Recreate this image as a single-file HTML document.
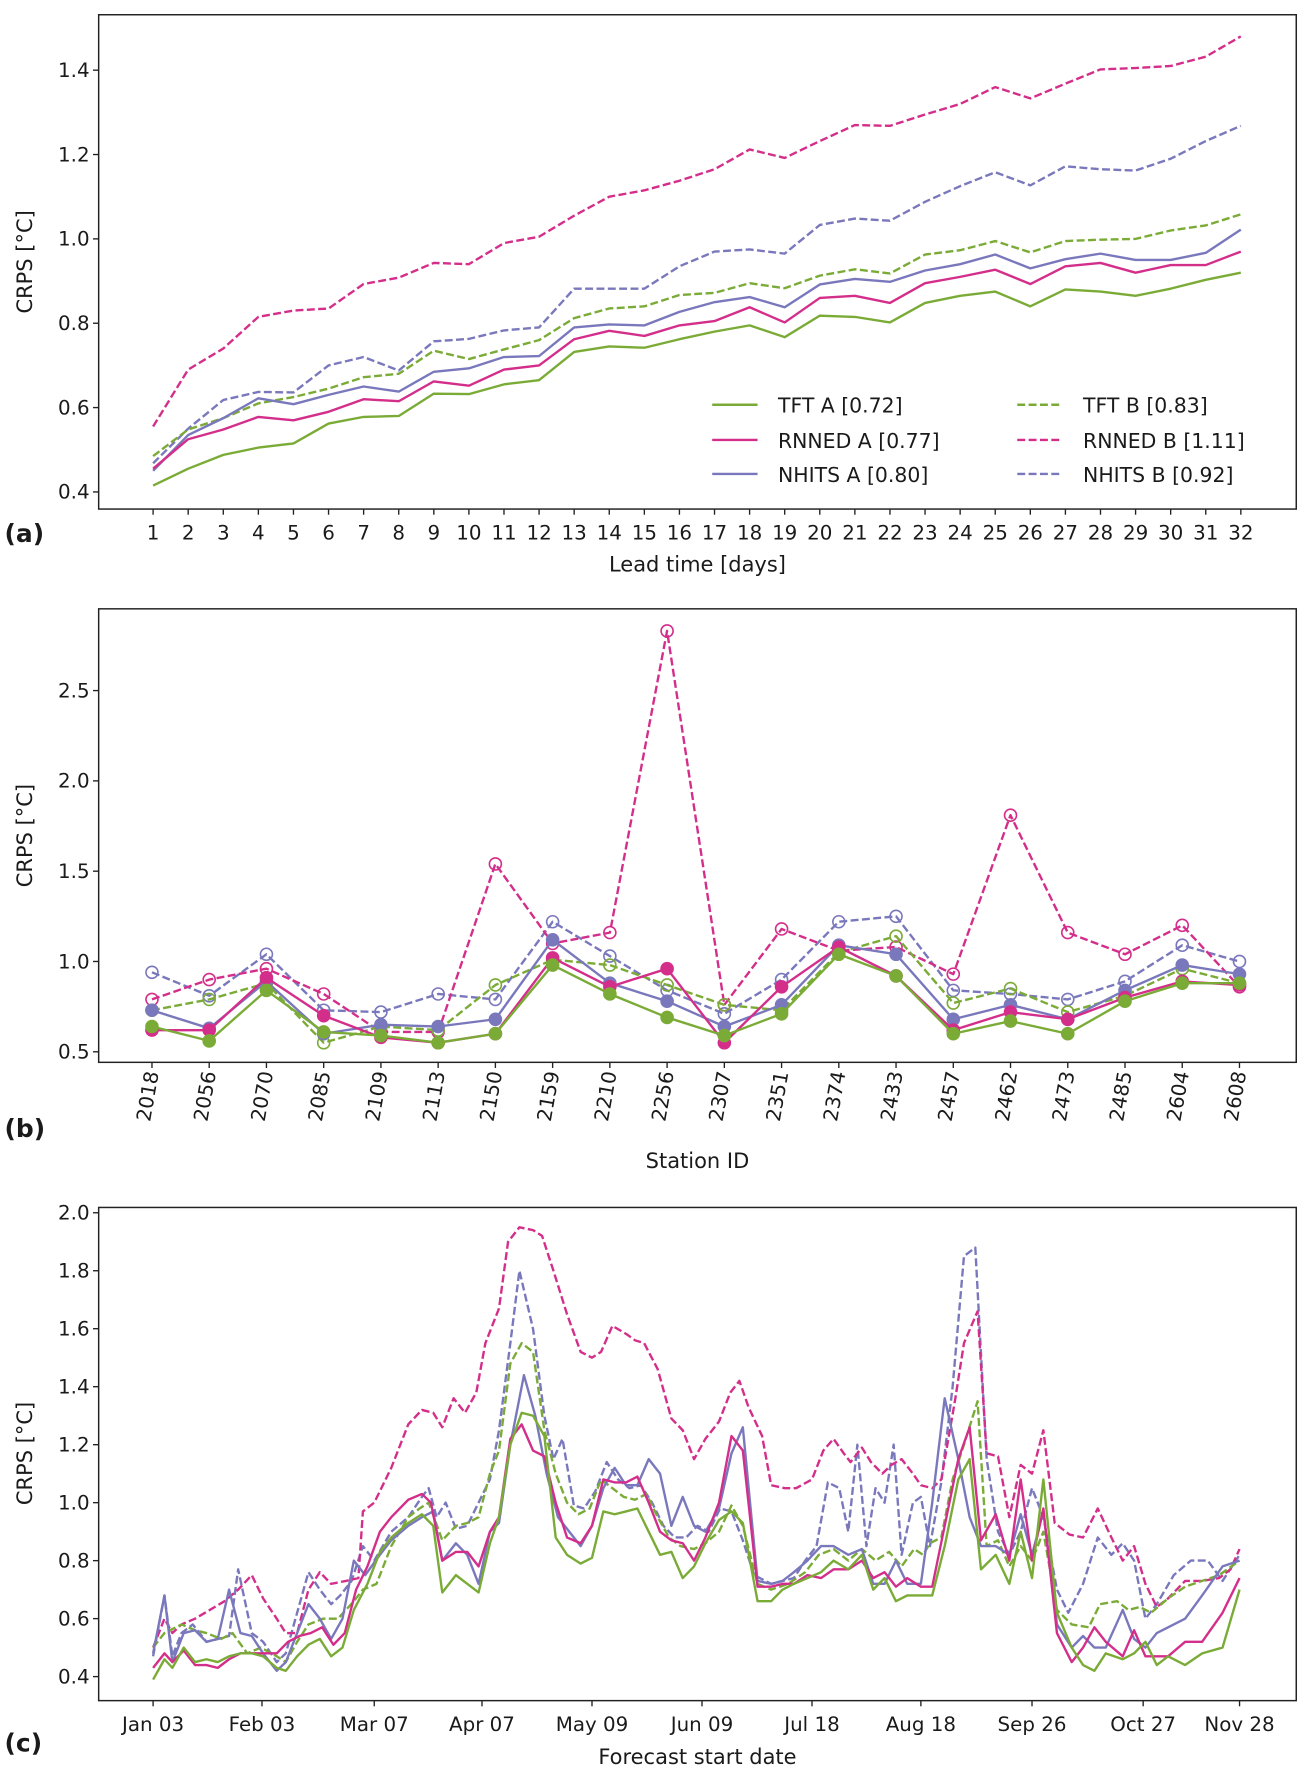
<!DOCTYPE html>
<html><head><meta charset="utf-8"><style>
html,body{margin:0;padding:0;background:#fff;}
svg{display:block;}
text{font-family:"DejaVu Sans","Liberation Sans",sans-serif;fill:#1a1a1a;}
</style></head><body>
<svg id="s" width="1311" height="1780" viewBox="0 0 1156 1570" preserveAspectRatio="none" xmlns="http://www.w3.org/2000/svg"></svg>
<script>
var S=document.getElementById('s'),NS='http://www.w3.org/2000/svg';
function el(t,a,txt){var e=document.createElementNS(NS,t);for(var k in a)e.setAttribute(k,a[k]);if(txt!=null)e.textContent=txt;S.appendChild(e);return e;}
var G='#7bab37',P='#d42e8b',U='#7a78bc';
var L=87,R=1143;
function line(pts,c,dash){el('polyline',{points:pts.map(function(p){return p[0].toFixed(1)+','+p[1].toFixed(1)}).join(' '),fill:'none',stroke:c,'stroke-width':2.1,'stroke-linejoin':'round','stroke-dasharray':dash?'7,3':'none'});}
function frame(t,b){el('rect',{x:L,y:t,width:R-L,height:b-t,fill:'none',stroke:'#222','stroke-width':1.3});}
function ytick(y,lab){el('line',{x1:L-5,y1:y,x2:L,y2:y,stroke:'#222','stroke-width':1.2});el('text',{x:L-8,y:y+6,'text-anchor':'end','font-size':17.5},lab);}
function xtick(x,b){el('line',{x1:x,y1:b,x2:x,y2:b+5,stroke:'#222','stroke-width':1.2});}
function ylab(cy){el('text',{x:0,y:0,transform:'translate(28,'+cy+') rotate(-90)','text-anchor':'middle','font-size':18.5},'CRPS [°C]');}
// ---------- Panel a ----------
var at=13,ab=449;
function ya(v){return 433.9-(v-0.4)*372;}
function xa(i){return 135+i*30.94;}
var A={
tA:[.415,.455,.488,.505,.515,.562,.578,.58,.633,.632,.655,.665,.732,.745,.742,.762,.78,.795,.767,.818,.815,.802,.848,.865,.875,.84,.88,.875,.865,.882,.903,.92],
rA:[.455,.525,.548,.578,.57,.59,.62,.615,.662,.652,.69,.7,.762,.782,.77,.795,.805,.838,.802,.86,.865,.848,.895,.91,.927,.893,.935,.943,.92,.938,.938,.97],
nA:[.45,.535,.575,.622,.608,.63,.65,.638,.685,.693,.72,.722,.79,.797,.795,.827,.85,.862,.838,.892,.905,.898,.925,.94,.963,.93,.952,.965,.95,.95,.967,1.022],
tB:[.485,.548,.575,.61,.625,.645,.672,.68,.735,.715,.738,.76,.812,.835,.84,.867,.872,.895,.883,.913,.928,.918,.963,.973,.995,.968,.995,.998,1.0,1.02,1.032,1.058],
rB:[.555,.69,.74,.815,.83,.835,.893,.908,.943,.94,.99,1.005,1.055,1.1,1.115,1.138,1.165,1.212,1.192,1.232,1.27,1.268,1.295,1.32,1.36,1.333,1.368,1.402,1.405,1.41,1.432,1.48],
nB:[.468,.55,.618,.637,.636,.7,.72,.688,.757,.763,.783,.79,.882,.882,.882,.935,.97,.975,.965,1.033,1.048,1.043,1.088,1.125,1.158,1.127,1.172,1.165,1.162,1.19,1.232,1.268]};
function pa(arr){return arr.map(function(v,i){return [xa(i),ya(v)]});}
line(pa(A.nB),U,1);line(pa(A.rB),P,1);line(pa(A.tB),G,1);
line(pa(A.nA),U,0);line(pa(A.rA),P,0);line(pa(A.tA),G,0);
frame(at,ab);
[0.4,0.6,0.8,1.0,1.2,1.4].forEach(function(v){ytick(ya(v),v.toFixed(1));});
for(var i=0;i<32;i++){xtick(xa(i),ab);el('text',{x:xa(i),y:476,'text-anchor':'middle','font-size':17.5},String(i+1));}
el('text',{x:615,y:504,'text-anchor':'middle','font-size':18.5},'Lead time [days]');
ylab(231);
el('text',{x:4,y:478,'font-size':22,'font-weight':'bold','font-family':'Liberation Sans'},'(a)');
var leg=[[628,357,G,0,'TFT A [0.72]'],[628,388,P,0,'RNNED A [0.77]'],[628,418,U,0,'NHITS A [0.80]'],[897,357,G,1,'TFT B [0.83]'],[897,388,P,1,'RNNED B [1.11]'],[897,418,U,1,'NHITS B [0.92]']];
leg.forEach(function(l){line([[l[0],l[1]],[l[0]+40,l[1]]],l[2],l[3]);el('text',{x:l[0]+58,y:l[1]+7,'font-size':18},l[4]);});
// ---------- Panel b ----------
var bt=537,bb=937;
function yb(v){return 927.7-(v-0.5)*159.3;}
function xb(i){return 134+i*50.47;}
var st=['2018','2056','2070','2085','2109','2113','2150','2159','2210','2256','2307','2351','2374','2433','2457','2462','2473','2485','2604','2608'];
var B={
tA:[.64,.56,.84,.61,.59,.55,.60,.98,.82,.69,.59,.71,1.04,.92,.60,.67,.60,.78,.88,.88],
rA:[.62,.62,.91,.70,.58,.55,.60,1.02,.86,.96,.55,.86,1.08,.92,.62,.72,.68,.80,.89,.87],
nA:[.73,.63,.89,.60,.65,.64,.68,1.12,.88,.78,.64,.76,1.09,1.04,.68,.76,.68,.84,.98,.93],
tB:[.73,.79,.88,.55,.64,.62,.87,1.01,.98,.87,.76,.73,1.05,1.14,.77,.85,.72,.81,.96,.88],
rB:[.79,.90,.96,.82,.61,.61,1.54,1.10,1.16,2.83,.76,1.18,1.06,1.08,.93,1.81,1.16,1.04,1.20,.86],
nB:[.94,.81,1.04,.73,.72,.82,.79,1.22,1.03,.84,.71,.90,1.22,1.25,.84,.82,.79,.89,1.09,1.0]};
function pb(arr){return arr.map(function(v,i){return [xb(i),yb(v)]});}
function mk(arr,c,filled){arr.forEach(function(v,i){el('circle',{cx:xb(i),cy:yb(v),r:5.3,fill:filled?c:'none',stroke:c,'stroke-width':1.4});});}
[['nB',U],['rB',P],['tB',G]].forEach(function(s){line(pb(B[s[0]]),s[1],1);mk(B[s[0]],s[1],0);});
[['nA',U],['rA',P],['tA',G]].forEach(function(s){line(pb(B[s[0]]),s[1],0);mk(B[s[0]],s[1],1);});
frame(bt,bb);
[0.5,1.0,1.5,2.0,2.5].forEach(function(v){ytick(yb(v),v.toFixed(1));});
st.forEach(function(s,i){xtick(xb(i),bb);el('text',{x:0,y:0,transform:'translate('+(xb(i)+6)+',946) rotate(-80)','text-anchor':'end','font-size':17.5},s);});
el('text',{x:615,y:1030,'text-anchor':'middle','font-size':18.5},'Station ID');
ylab(737);
el('text',{x:4,y:1003,'font-size':22,'font-weight':'bold','font-family':'Liberation Sans'},'(b)');
// ---------- Panel c ----------
var ct=1065,cb=1500;
function yc(v){return 1478.8-(v-0.4)*255.7;}
function pc(s){var a=s.split(','),o=[];a.forEach(function(q){var t=q.trim().split(':');o.push([+t[0],yc(+t[1])]);});return o;}
var C={
rB:"135:.50,145:.60,152:.55,160:.58,172:.60,185:.63,198:.66,210:.70,222:.75,232:.67,244:.60,252:.55,262:.55,272:.70,282:.76,292:.72,305:.73,316:.74,320:.97,330:1.0,345:1.12,360:1.27,372:1.32,382:1.31,390:1.26,400:1.36,410:1.31,420:1.38,428:1.55,440:1.67,448:1.90,458:1.95,470:1.94,478:1.92,488:1.80,500:1.65,512:1.52,522:1.50,530:1.52,540:1.61,553:1.58,560:1.56,568:1.55,580:1.46,592:1.29,602:1.25,612:1.15,622:1.22,634:1.28,644:1.38,652:1.42,660:1.33,672:1.23,680:1.06,692:1.05,702:1.05,716:1.08,726:1.18,735:1.22,744:1.17,750:1.14,760:1.19,768:1.14,778:1.10,786:1.13,795:1.15,805:1.10,812:1.06,822:1.05,830:1.08,842:1.35,850:1.55,862:1.66,870:1.17,880:1.16,890:0.95,900:1.13,910:1.10,920:1.25,930:0.93,943:0.89,955:0.88,968:0.98,980:0.88,990:0.80,1000:0.85,1010:0.72,1020:0.64,1030:0.67,1045:0.73,1060:0.73,1075:0.74,1085:0.77,1093:0.84",
nB:"135:.47,145:.68,152:.47,160:.55,170:.58,182:.52,192:.53,202:.54,210:.77,222:.55,232:.52,244:.45,252:.48,262:.62,272:.76,282:.70,292:.65,300:.68,310:.73,320:.85,330:.80,345:.90,360:.95,372:1.02,378:1.05,385:.95,393:1.00,402:.91,412:.92,422:1.00,432:1.08,440:1.25,450:1.55,458:1.80,470:1.60,480:1.30,488:1.15,496:1.22,506:.99,515:.98,525:1.04,535:1.14,545:1.08,555:1.05,565:1.06,575:1.00,585:.92,595:.88,605:.88,615:.92,625:.90,635:.98,645:.97,655:.87,665:.75,680:.72,690:.73,700:.74,710:.80,720:.85,730:1.07,740:1.05,748:.90,756:1.20,764:.85,772:1.05,780:1.00,788:1.20,795:.82,805:1.00,812:1.02,820:.85,830:1.07,840:1.40,850:1.85,860:1.88,870:1.15,880:.90,890:.82,900:.90,910:1.05,920:.95,932:.70,942:.62,955:.72,968:.88,980:.82,990:.86,1000:.80,1010:.60,1020:.65,1035:.75,1050:.80,1065:.80,1078:.73,1093:.82",
tB:"135:.50,145:.55,160:.58,172:.56,182:.55,195:.53,205:.55,218:.48,230:.50,244:.47,252:.45,262:.52,272:.58,285:.60,298:.60,312:.66,320:.70,332:.72,345:.85,360:.95,370:.98,378:1.00,390:.87,402:.92,412:.93,422:.95,432:1.10,440:1.18,450:1.48,460:1.55,470:1.52,480:1.25,490:1.10,500:1.00,510:.96,520:.98,530:1.08,540:1.05,550:1.02,560:1.01,570:1.03,580:.95,590:.88,600:.85,612:.84,622:.86,634:.90,645:.99,655:.92,668:.72,680:.70,695:.72,710:.76,722:.82,735:.84,748:.80,760:.84,772:.80,784:.83,795:.78,806:.84,814:.82,820:.86,830:.88,840:1.08,850:1.20,862:1.35,870:.85,880:.87,890:.78,900:.85,910:.80,920:.90,932:.63,945:.58,960:.57,970:.65,985:.66,995:.63,1005:.64,1015:.62,1030:.67,1045:.71,1060:.73,1075:.75,1093:.80",
nA:"135:.48,145:.68,152:.45,162:.55,172:.56,182:.52,192:.53,202:.70,212:.55,222:.54,232:.48,244:.42,252:.45,262:.55,272:.65,282:.60,292:.53,302:.60,312:.80,322:.75,335:.82,345:.87,360:.92,372:.95,382:.97,390:.80,402:.86,412:.82,422:.72,432:.90,440:.93,450:1.20,462:1.44,472:1.30,482:1.10,492:.95,502:.90,512:.85,522:.92,532:1.05,542:1.12,552:1.06,562:1.06,572:1.15,582:1.10,592:.92,602:1.02,612:.92,622:.90,634:.98,645:1.17,655:1.26,668:.73,680:.72,690:.73,700:.76,712:.80,724:.85,735:.85,748:.82,760:.84,770:.72,780:.72,790:.80,800:.72,812:.72,822:1.00,833:1.36,845:1.15,855:.95,865:.85,878:.85,890:.82,900:.96,910:.82,920:.97,932:.58,945:.50,955:.54,965:.50,975:.50,990:.63,1000:.53,1010:.50,1020:.55,1030:.57,1045:.60,1060:.68,1078:.78,1093:.80",
rA:"135:.43,145:.48,152:.45,162:.49,172:.44,182:.44,192:.43,202:.46,212:.48,222:.48,232:.48,244:.48,254:.52,264:.54,274:.55,284:.57,294:.51,304:.55,314:.70,324:.78,335:.90,345:.95,360:1.01,372:1.03,380:1.00,390:.80,402:.83,412:.83,422:.78,432:.90,440:.95,450:1.22,460:1.27,470:1.18,480:1.16,490:1.00,500:.88,512:.86,522:.92,532:1.08,542:1.07,552:1.07,562:1.09,572:1.00,582:.90,592:.87,602:.86,612:.80,622:.88,634:1.00,645:1.23,655:1.18,668:.71,680:.71,690:.72,700:.72,712:.75,724:.74,735:.77,748:.77,760:.80,770:.74,780:.76,790:.71,800:.74,812:.71,822:.71,833:.92,845:1.15,855:1.26,865:.87,878:.96,890:.80,900:1.08,910:.80,920:.98,932:.55,945:.45,955:.50,965:.57,975:.52,990:.47,1000:.56,1010:.47,1020:.47,1030:.47,1045:.52,1060:.52,1078:.62,1093:.74",
tA:"135:.39,145:.46,152:.43,162:.50,172:.45,182:.46,192:.45,202:.47,212:.48,222:.48,232:.47,244:.43,252:.42,262:.47,272:.51,282:.53,292:.47,302:.50,312:.63,324:.72,335:.83,345:.88,360:.93,372:.96,382:.92,390:.69,402:.75,412:.72,422:.69,432:.86,440:.95,450:1.20,460:1.31,470:1.30,480:1.23,490:.88,500:.82,512:.79,522:.81,532:.97,542:.96,552:.97,562:.98,572:.90,582:.82,592:.83,602:.74,612:.78,622:.86,634:.94,645:.97,655:.93,668:.66,680:.66,690:.70,700:.72,712:.74,724:.76,735:.80,748:.77,760:.82,770:.70,780:.74,790:.66,800:.68,812:.68,822:.68,833:.85,845:1.08,855:1.15,865:.77,878:.82,890:.72,900:.90,910:.74,920:1.08,932:.62,945:.50,955:.44,965:.42,975:.48,990:.46,1000:.48,1010:.52,1020:.44,1030:.47,1045:.44,1060:.48,1078:.50,1093:.70"};
line(pc(C.nB),U,1);line(pc(C.rB),P,1);line(pc(C.tB),G,1);
line(pc(C.nA),U,0);line(pc(C.rA),P,0);line(pc(C.tA),G,0);
frame(ct,cb);
[0.4,0.6,0.8,1.0,1.2,1.4,1.6,1.8,2.0].forEach(function(v){ytick(yc(v),v.toFixed(1));});
var dl=[[135,'Jan 03'],[231,'Feb 03'],[330,'Mar 07'],[425,'Apr 07'],[522,'May 09'],[619,'Jun 09'],[716,'Jul 18'],[812,'Aug 18'],[910,'Sep 26'],[1008,'Oct 27'],[1093,'Nov 28']];
dl.forEach(function(d){xtick(d[0],cb);el('text',{x:d[0],y:1527,'text-anchor':'middle','font-size':17.5},d[1]);});
el('text',{x:615,y:1556,'text-anchor':'middle','font-size':18.5},'Forecast start date');
ylab(1282);
el('text',{x:4,y:1545,'font-size':22,'font-weight':'bold','font-family':'Liberation Sans'},'(c)');
</script>
</body></html>
